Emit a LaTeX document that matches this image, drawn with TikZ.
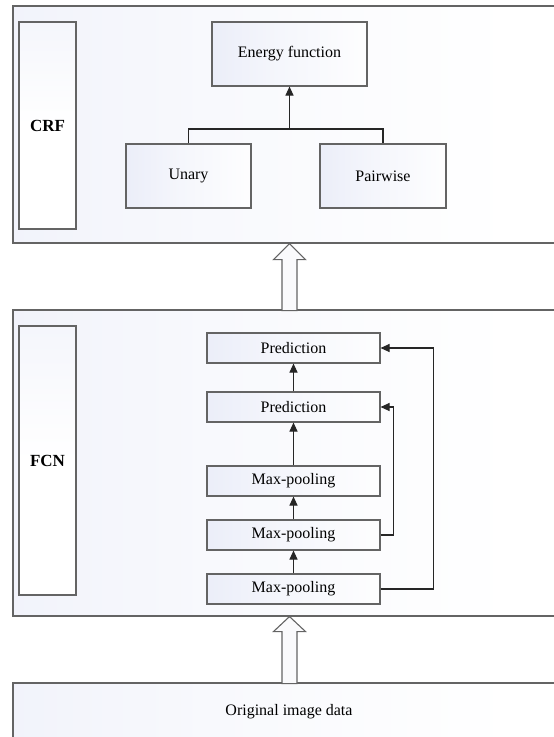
\documentclass[tikz,border=0pt]{standalone}
\usepackage{fontspec}
\setmainfont{Liberation Serif}
\usetikzlibrary{arrows.meta,calc}
\definecolor{edge}{RGB}{100,100,100}
\definecolor{shade}{RGB}{224,228,245}
\definecolor{hollowfill}{RGB}{250,250,252}
\pgfdeclarehorizontalshading{panelshade}{100bp}{color(0bp)=(shade!75); color(40bp)=(shade!25); color(70bp)=(white); color(100bp)=(white)}
\pgfdeclarehorizontalshading{boxshade}{100bp}{color(0bp)=(shade); color(45bp)=(shade!35); color(80bp)=(white); color(100bp)=(white)}
\pgfdeclareverticalshading{sideshade}{100bp}{color(0bp)=(white); color(50bp)=(white); color(80bp)=(shade!40); color(100bp)=(shade!80)}
\tikzset{
  outerbox/.style={draw=edge, line width=1.1pt, rectangle, inner sep=0pt, shading=panelshade},
  labelbox/.style={draw=edge, line width=1.1pt, rectangle, inner sep=0pt,
    shading=sideshade, font=\fontsize{17}{20}\selectfont\bfseries},
  crfbox/.style={draw=edge, line width=1.1pt, rectangle, inner sep=0pt,
    shading=boxshade, minimum height=64pt, font=\fontsize{16}{19}\selectfont},
  layerbox/.style={draw=edge, line width=1.1pt, rectangle, inner sep=0pt,
    shading=boxshade, minimum width=173pt, minimum height=30pt,
    font=\fontsize{16}{19}\selectfont},
  conn/.style={draw=black!85, line width=1.1pt},
  arr/.style={conn, -{Triangle[width=8pt,length=9pt]}},
  hollow/.style={draw=edge, line width=1.1pt, fill=hollowfill, line join=miter}
}
\begin{document}
\begin{tikzpicture}[x=1pt,y=-1pt]
\useasboundingbox (0,0) rectangle (554,737);
% outer panels
\node[outerbox, minimum width=557pt, minimum height=237pt] (crf) at (291.5,124.5) {};
\node[outerbox, minimum width=557pt, minimum height=306pt] (fcn) at (291.5,463) {};
\node[outerbox, minimum width=557pt, minimum height=58pt, font=\fontsize{16}{19}\selectfont] (orig) at (291.5,712) {\hspace*{-5pt}Original image data};
% side labels
\node[labelbox, minimum width=57pt, minimum height=207pt] (crflabel) at (47.5,125.5) {CRF};
\node[labelbox, minimum width=57pt, minimum height=269pt] (fcnlabel) at (47.5,460.5) {FCN};
% CRF content
\node[crfbox, minimum width=155pt] (energy) at (289.5,54) {Energy function};
\node[crfbox, minimum width=125pt] (unary) at (188.5,176) {Unary};
\node[crfbox, minimum width=126pt] (pairwise) at (383,176) {Pairwise};
\coordinate (j) at (289.5,129);
\draw[conn] (unary.north) |- (j) -| (pairwise.north);
\draw[arr] (j) -- (energy.south);
% FCN content
\node[layerbox] (p1) at (293.5,348) {Prediction};
\node[layerbox] (p2) at (293.5,407) {Prediction};
\node[layerbox] (m1) at (293.5,481) {Max-pooling};
\node[layerbox] (m2) at (293.5,535) {Max-pooling};
\node[layerbox] (m3) at (293.5,589) {Max-pooling};
\draw[arr] (m3.north) -- (m2.south);
\draw[arr] (m2.north) -- (m1.south);
\draw[arr] (m1.north) -- (p2.south);
\draw[arr] (p2.north) -- (p1.south);
\draw[arr] (m2.east) -- ++(13,0) |- (p2.east);
\draw[arr] (m3.east) -- ++(53,0) |- (p1.east);
% hollow arrows between panels
\coordinate (t1) at (crf.south -| energy.south);
\coordinate (t2) at (fcn.south -| energy.south);
\draw[hollow] (t1) -- ++(16,16) -- ++(-8.5,0) -- ++(0,51) -- ++(-15,0) -- ++(0,-51) -- ++(-8.5,0) -- cycle;
\draw[hollow] (t2) -- ++(16,15) -- ++(-8.5,0) -- ++(0,52) -- ++(-15,0) -- ++(0,-52) -- ++(-8.5,0) -- cycle;
\end{tikzpicture}
\end{document}
